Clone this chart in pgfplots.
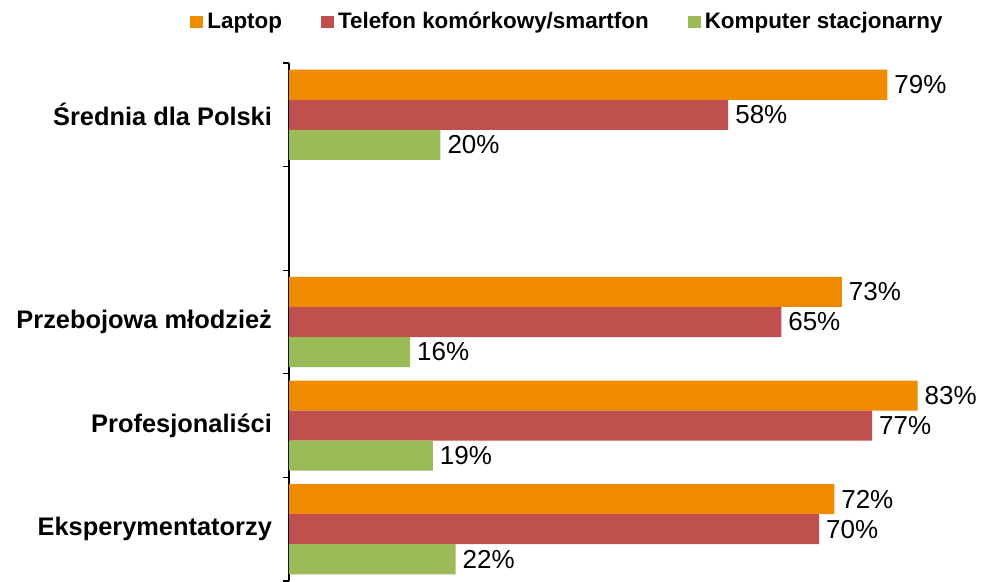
\documentclass[border=0pt]{standalone}
\usepackage{fontspec}
\setmainfont{Liberation Sans}
\usepackage{pgfplots}
\pgfplotsset{compat=1.18}
\usetikzlibrary{calc}
\definecolor{laptop}{RGB}{240,139,0}
\definecolor{phone}{RGB}{192,80,77}
\definecolor{desktop}{RGB}{155,187,89}

\begin{document}
\begin{tikzpicture}
\begin{axis}[
    scale only axis, width=349.5pt, height=259pt,
    xbar, bar width=0.29,
    xmin=0, xmax=92.3, ymin=-0.5, ymax=4.5,
    axis x line=none, axis y line*=left,
    y axis line style={line width=0.75pt},
    ytick={0,1,2,4},
    yticklabels={Eksperymentatorzy,Profesjonaliści,Przebojowa młodzież,Średnia dla Polski},
    major tick length=0pt,
    extra y ticks={-0.5,0.5,1.5,2.5,3.5,4.5},
    extra y tick labels={,,,,,},
    extra y tick style={major tick length=3pt, tick align=outside,
        tick style={black, line width=0.6pt}},
    yticklabel style={font=\fontsize{12.7}{15}\selectfont\bfseries, xshift=-5pt},
    /pgf/number format/assume math mode=true,
    point meta=x,
    nodes near coords={\pgfmathprintnumber{\pgfplotspointmeta}\%},
    every node near coord/.append style={font=\fontsize{13}{15}\selectfont, black},
    legend style={draw=none, fill=none, at={(-0.1416,1.079)}, anchor=west,
        legend columns=-1, inner sep=0pt,
        font=\fontsize{11.2}{13}\selectfont\bfseries,
        /tikz/every even column/.append style={column sep=17.5pt}},
    legend image code/.code={\path[#1,draw=none] (0pt,-3pt) rectangle (6.5pt,3pt);},
]
\addplot[fill=laptop, draw=none, bar shift=0.29] coordinates {(79,4) (73,2) (83,1) (72,0)};
\addlegendentry{Laptop}
\addplot[fill=phone, draw=none, bar shift=0] coordinates {(58,4) (65,2) (77,1) (70,0)};
\addlegendentry{Telefon komórkowy/smartfon}
\addplot[fill=desktop, draw=none, bar shift=-0.29] coordinates {(20,4) (16,2) (19,1) (22,0)};
\addlegendentry{Komputer stacjonarny}
\coordinate (bl) at (rel axis cs:0,0);
\coordinate (tr) at (rel axis cs:1,1);
\end{axis}
\pgfresetboundingbox
\path[use as bounding box] ($(bl)+(-144.5pt,-0.5pt)$) rectangle ($(tr)+(0pt,31.5pt)$);
\end{tikzpicture}
\end{document}
